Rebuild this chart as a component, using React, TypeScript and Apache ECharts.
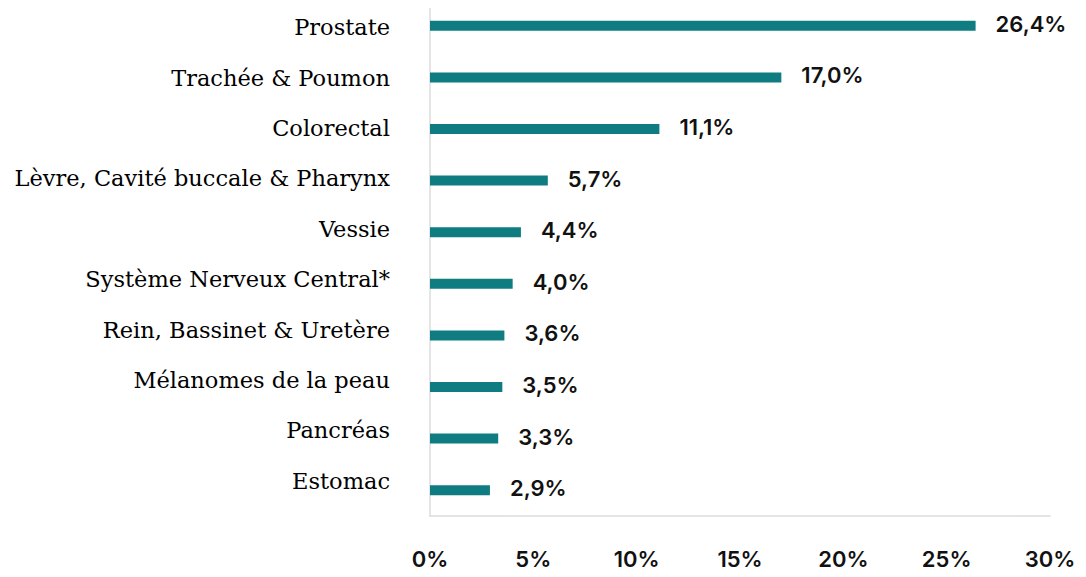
import React, { useEffect, useRef } from "react";
import * as echarts from "echarts";

const categories = [
  "Prostate",
  "Trachée & Poumon",
  "Colorectal",
  "Lèvre, Cavité buccale & Pharynx",
  "Vessie",
  "Système Nerveux Central*",
  "Rein, Bassinet & Uretère",
  "Mélanomes de la peau",
  "Pancréas",
  "Estomac",
];
const values = [26.4, 17.0, 11.1, 5.7, 4.4, 4.0, 3.6, 3.5, 3.3, 2.9];
const axisMin = 0;
const axisMax = 30;
const axisStep = 5;

const fmt = (v: number) => v.toFixed(1).replace(".", ",") + "%";

export default function App() {
  const ref = useRef<HTMLDivElement>(null);
  useEffect(() => {
    if (!ref.current) return;
    const chart = echarts.init(ref.current, undefined, { renderer: "svg" });
    const sans = "Inter, 'Noto Sans', sans-serif";
    chart.setOption({
      animation: false,
      backgroundColor: "#ffffff",
      grid: [
        { left: 430, right: 36, top: -3, height: 519, containLabel: false },
        { left: 430, right: 36, top: 2, height: 504, containLabel: false },
      ],
      xAxis: [
        {
          type: "value",
          gridIndex: 0,
          min: axisMin,
          max: axisMax,
          interval: axisStep,
          axisLine: { show: true, lineStyle: { color: "#dcdcdc", width: 1.5 } },
          axisTick: { show: false },
          splitLine: { show: false },
          axisLabel: {
            formatter: (v: number) => `${v}%`,
            fontFamily: sans,
            fontWeight: 600,
            fontSize: 22,
            color: "#111111",
            margin: 32,
          },
        },
        {
          type: "value",
          gridIndex: 1,
          min: axisMin,
          max: axisMax,
          show: false,
        },
      ],
      yAxis: [
        {
          type: "category",
          gridIndex: 0,
          data: categories,
          inverse: true,
          axisLine: { show: true, onZero: false, lineStyle: { color: "#dcdcdc", width: 1.5 } },
          axisTick: { show: false },
          axisLabel: { show: false },
          splitLine: { show: false },
        },
        {
          type: "category",
          gridIndex: 1,
          data: categories,
          inverse: true,
          axisLine: { show: false },
          axisTick: { show: false },
          splitLine: { show: false },
          axisLabel: {
            fontFamily: "'DejaVu Serif', serif",
            fontSize: 22.5,
            color: "#000000",
            margin: 40,
          },
        },
      ],
      series: [
        {
          type: "bar",
          xAxisIndex: 0,
          yAxisIndex: 0,
          data: values,
          barWidth: 10,
          itemStyle: { color: "#0e7c80" },
          label: {
            show: true,
            position: "right",
            distance: 20,
            offset: [0, -2],
            formatter: (p: any) => fmt(p.value),
            fontFamily: sans,
            fontWeight: 600,
            fontSize: 22,
            color: "#111111",
          },
        },
      ],
    });
    return () => chart.dispose();
  }, []);
  return <div ref={ref} style={{ width: 1086, height: 577, margin: -8 }} />;
}
